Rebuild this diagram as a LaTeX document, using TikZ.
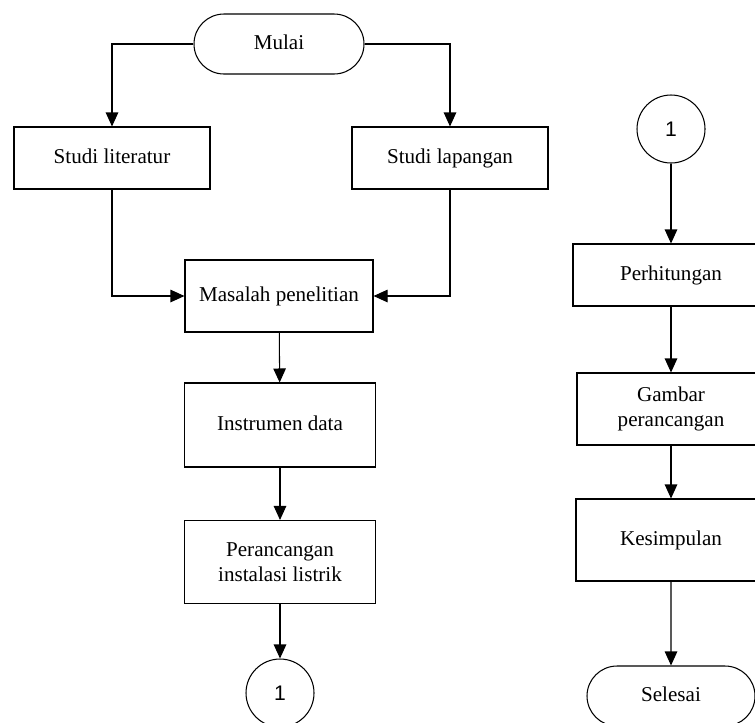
\documentclass[tikz,border=0pt]{standalone}
\usepackage{fontspec}
\setmainfont{Liberation Serif}
\setsansfont{Liberation Sans}
\usetikzlibrary{arrows.meta,shapes.misc}
\tikzset{
  box/.style={draw, line width=0.6pt, align=center, inner sep=0pt},
  one/.style={text height=1.6ex, text depth=0.25ex},
  term/.style={draw, rounded rectangle, line width=0.6pt, inner sep=0pt, one},
  con/.style={draw, circle, line width=0.6pt, minimum size=13.6mm, inner sep=0pt, font=\sffamily\fontsize{12}{14}\selectfont},
  arr/.style={line width=0.6pt, -{Triangle[length=2.8mm,width=2.5mm]}}
}
\begin{document}
\begin{tikzpicture}[x=0.2mm, y=-0.2mm, font=\fontsize{12}{14}\selectfont]
\useasboundingbox (0,0) rectangle (755,722);
\clip (0,0) rectangle (755,722);
\node[term, minimum width=34mm, minimum height=12mm] (mulai) at (279,44){Mulai};
\node[box, one, minimum width=39.2mm, minimum height=12.4mm] (lit) at (112,158){Studi literatur};
\node[box, one, minimum width=39.2mm, minimum height=12.4mm] (lap) at (450,158){Studi lapangan};
\node[box, one, minimum width=37.6mm, minimum height=14.4mm] (mas) at (279,296){Masalah penelitian};
\node[box, one, minimum width=38.2mm, minimum height=16.8mm] (ins) at (280,425){Instrumen data};
\node[box, minimum width=38.2mm, minimum height=16.6mm] (per) at (280,562){Perancangan\\instalasi listrik};
\node[con] (con1) at (280,693){1};
\draw[arr](mulai.west) -| (lit.north);
\draw[arr](mulai.east) -| (lap.north);
\draw[arr](lit.south) |- (mas.west);
\draw[arr](lap.south) |- (mas.east);
\draw[arr](mas) -- (ins);
\draw[arr](ins) -- (per);
\draw[arr](per) -- (con1);

\node[con] (con2) at (671,129){1};
\node[box, one, minimum width=39.2mm, minimum height=12.4mm] (hit) at (671,275){Perhitungan};
\node[box, minimum width=37.6mm, minimum height=14.4mm] (gam) at (671,409){Gambar\\perancangan};
\node[box, one, minimum width=38mm, minimum height=16.4mm] (kes) at (671,540){Kesimpulan};
\node[term, minimum width=33.6mm, minimum height=12mm] (sel) at (671,696){Selesai};
\draw[arr](con2) -- (hit);
\draw[arr](hit) -- (gam);
\draw[arr](gam) -- (kes);
\draw[arr](kes) -- (sel);

\end{tikzpicture}
\end{document}
